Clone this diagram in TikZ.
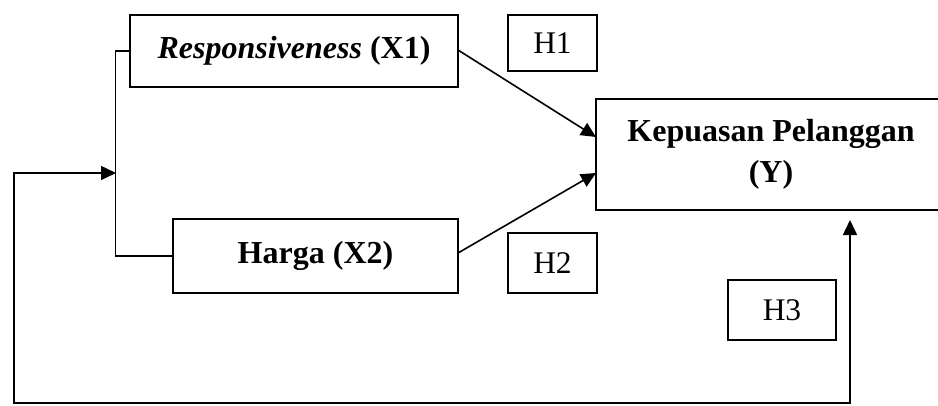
\documentclass[tikz,border=0pt]{standalone}
\usepackage{fontspec}
\setmainfont{Liberation Serif}
\usetikzlibrary{arrows.meta}

\begin{document}
\begin{tikzpicture}
      [x=1pt,y=-1pt,every node/.style={draw,line width=1.1pt,inner sep=0pt,align=center,font=\fontsize{32}{41}\selectfont},
       hyp/.style={font=\fontsize{31.5}{41}\selectfont},
       link/.style={line width=1.6pt,-{Triangle[length=15pt,width=14pt]}}]
	\useasboundingbox (0,0) rectangle (938,405);

	\node (x1) [minimum width=328,minimum height=72] at (294,51)    {\textbf{\textit{Responsiveness} (X1)}};
	\node (x2) [minimum width=285,minimum height=74] at (315.5,256) {\textbf{Harga (X2)}};
	\node (y)  [minimum width=350,minimum height=111] at (771,154.5) {\textbf{Kepuasan Pelanggan}\\\textbf{(Y)}};
	\node (h1) [hyp,minimum width=89,minimum height=56]  at (552.5,43)  {H1};
	\node (h2) [hyp,minimum width=89,minimum height=60]  at (552.5,263) {H2};
	\node (h3) [hyp,minimum width=108,minimum height=60] at (782,310)   {H3};

	\coordinate (a1) at (458,50);
	\coordinate (a2) at (458,253);
	\coordinate (b1) at (596,137);
	\coordinate (b2) at (596,173);
	\coordinate (fb) at (116,173);
	\coordinate (corner) at (14,403);
	\coordinate (yin) at (850,220);

	\draw[line width=1.1pt] (x1.west) -- ++(-14,0) |- (x2.west);

	\foreach \from/\to in {a1/b1,a2/b2}
	  \draw[link] (\from) -- (\to);

	\draw[link,{Triangle[length=15pt,width=14pt]}-{Triangle[length=15pt,width=14pt]}] (fb) -| (corner) -| (yin);
      \end{tikzpicture}
\end{document}
